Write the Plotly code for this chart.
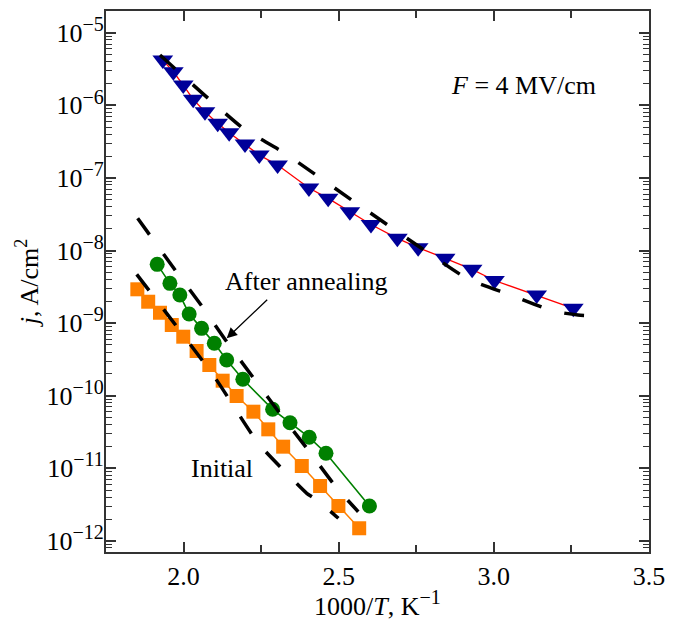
import plotly.graph_objects as go

# ---- data (1000/T in K^-1, log10 of j in A/cm^2) ----
x_blue = [1.933, 1.967, 1.999, 2.031, 2.069, 2.110, 2.147, 2.198, 2.244, 2.303, 2.404,
          2.466, 2.536, 2.604, 2.689, 2.756, 2.843, 2.930, 3.002, 3.138, 3.256]
lg_blue = [-5.376, -5.537, -5.720, -5.917, -6.088, -6.248, -6.377, -6.533, -6.685, -6.822, -7.139,
           -7.281, -7.466, -7.642, -7.832, -7.961, -8.107, -8.259, -8.413, -8.613, -8.796]

x_green = [1.915, 1.956, 1.988, 2.018, 2.058, 2.099, 2.139, 2.191, 2.287, 2.343, 2.405, 2.459, 2.599]
lg_green = [-8.190, -8.452, -8.613, -8.875, -9.072, -9.278, -9.508, -9.774, -10.187, -10.372,
            -10.573, -10.793, -11.519]

x_orange = [1.851, 1.886, 1.924, 1.962, 1.999, 2.042, 2.083, 2.126, 2.171, 2.225, 2.273,
            2.321, 2.381, 2.440, 2.499, 2.566]
lg_orange = [-8.534, -8.705, -8.857, -9.026, -9.187, -9.384, -9.577, -9.793, -10.004, -10.220,
             -10.463, -10.702, -10.968, -11.244, -11.519, -11.826]

# model (dashed) curves
x_fit_blue = [1.924, 2.082, 2.195, 2.320, 2.556, 2.794, 2.917, 3.055, 3.191, 3.271, 3.336]
lg_fit_blue = [-5.307, -5.913, -6.326, -6.643, -7.346, -8.048, -8.393, -8.613, -8.833, -8.888, -8.902]

x_fit_green = [1.852, 1.975, 2.058, 2.139, 2.230, 2.316, 2.404, 2.493, 2.563]
lg_fit_green = [-7.556, -8.282, -8.760, -9.256, -9.783, -10.275, -10.762, -11.267, -11.598]

x_fit_orange = [1.849, 2.099, 2.241, 2.348, 2.397, 2.424, 2.446, 2.472, 2.499]
lg_fit_orange = [-8.328, -9.738, -10.656, -11.138, -11.344, -11.423, -11.519, -11.588, -11.689]

y_tick_exps = [-5, -6, -7, -8, -9, -10, -11, -12]
x_tick_vals = [2.0, 2.5, 3.0, 3.5]
x_tick_text = ["2.0", "2.5", "3.0", "3.5"]

FONT = "Liberation Serif"
FS = 26
SUP = "<sup><span style='font-size:20px'>%s</span></sup>"


def tolin(lg):
    return [10 ** v for v in lg]


fig = go.Figure()

fig.add_trace(go.Scatter(x=x_orange, y=tolin(lg_orange), mode="lines+markers",
                         line=dict(color="#FF8000", width=1.5),
                         marker=dict(symbol="square", size=14, color="#FF8000"),
                         showlegend=False))
fig.add_trace(go.Scatter(x=x_green, y=tolin(lg_green), mode="lines+markers",
                         line=dict(color="#008000", width=1.6),
                         marker=dict(symbol="circle", size=15, color="#008000"),
                         showlegend=False))
fig.add_trace(go.Scatter(x=x_blue, y=tolin(lg_blue), mode="lines+markers",
                         line=dict(color="#FF0000", width=1.3),
                         marker=dict(symbol="triangle-down", size=18, color="#000099"),
                         showlegend=False))

for xs, lgs in [(x_fit_blue, lg_fit_blue), (x_fit_green, lg_fit_green), (x_fit_orange, lg_fit_orange)]:
    fig.add_trace(go.Scatter(x=xs, y=tolin(lgs), mode="lines",
                             line=dict(color="black", width=3.5, dash="20px,24px", shape="spline",
                                       smoothing=0.6),
                             showlegend=False))

minor_y = [k * 10.0 ** d for d in range(-13, -4) for k in range(2, 10)]

fig.update_xaxes(range=[1.75, 3.5], tickvals=x_tick_vals, ticktext=x_tick_text,
                 automargin=False,
                 ticks="inside", ticklen=10, tickwidth=1.5, tickcolor="#333",
                 showline=True, linewidth=2, linecolor="#333", mirror="ticks",
                 showgrid=False, zeroline=False,
                 minor=dict(dtick=0.25, tick0=0, ticks="inside", ticklen=7, tickwidth=1.5,
                            tickcolor="#333", showgrid=False),
                 tickfont=dict(family=FONT, size=FS, color="black"),
                 title=dict(text="1000/<i>T</i>, K" + SUP % "−1",
                            font=dict(family=FONT, size=FS, color="black"), standoff=0))

fig.update_yaxes(type="log", range=[-12.153, -4.70],
                 tickvals=[10.0 ** e for e in y_tick_exps],
                 ticktext=["10" + SUP % ("−%d" % (-e)) for e in y_tick_exps],
                 automargin=False, ticklabelstandoff=-5,
                 ticks="inside", ticklen=10, tickwidth=1.5, tickcolor="#333",
                 showline=True, linewidth=2, linecolor="#333", mirror="ticks",
                 showgrid=False, zeroline=False,
                 minor=dict(tickvals=minor_y, ticks="inside", ticklen=6, tickwidth=1.2,
                            tickcolor="#333", showgrid=False),
                 tickfont=dict(family=FONT, size=FS, color="black"),
                 title=dict(text="<i>j</i>, A/cm<sup>2</sup>",
                            font=dict(family=FONT, size=FS, color="black"), standoff=0))

ann_font = dict(family=FONT, size=26, color="black")
fig.add_annotation(x=3.097, y=-5.72, text="<i>F</i> = 4 MV/cm", showarrow=False, font=ann_font)
fig.add_annotation(x=2.396, y=-8.42, text="After annealing", showarrow=False, font=ann_font)
fig.add_annotation(x=2.125, y=-10.996, text="Initial", showarrow=False, font=ann_font)
fig.add_annotation(x=2.139, y=-9.209, text="", showarrow=True, ax=42, ay=-40,
                   arrowhead=2, arrowsize=1.6, arrowwidth=1.3, arrowcolor="black")

# page body has an 8px default margin, so the figure is 8px smaller each way
fig.update_layout(width=665, height=613, margin=dict(l=98, r=24, t=3, b=69),
                  plot_bgcolor="white", paper_bgcolor="white",
                  font=dict(family=FONT, color="black"))

fig.write_html("out.html")
